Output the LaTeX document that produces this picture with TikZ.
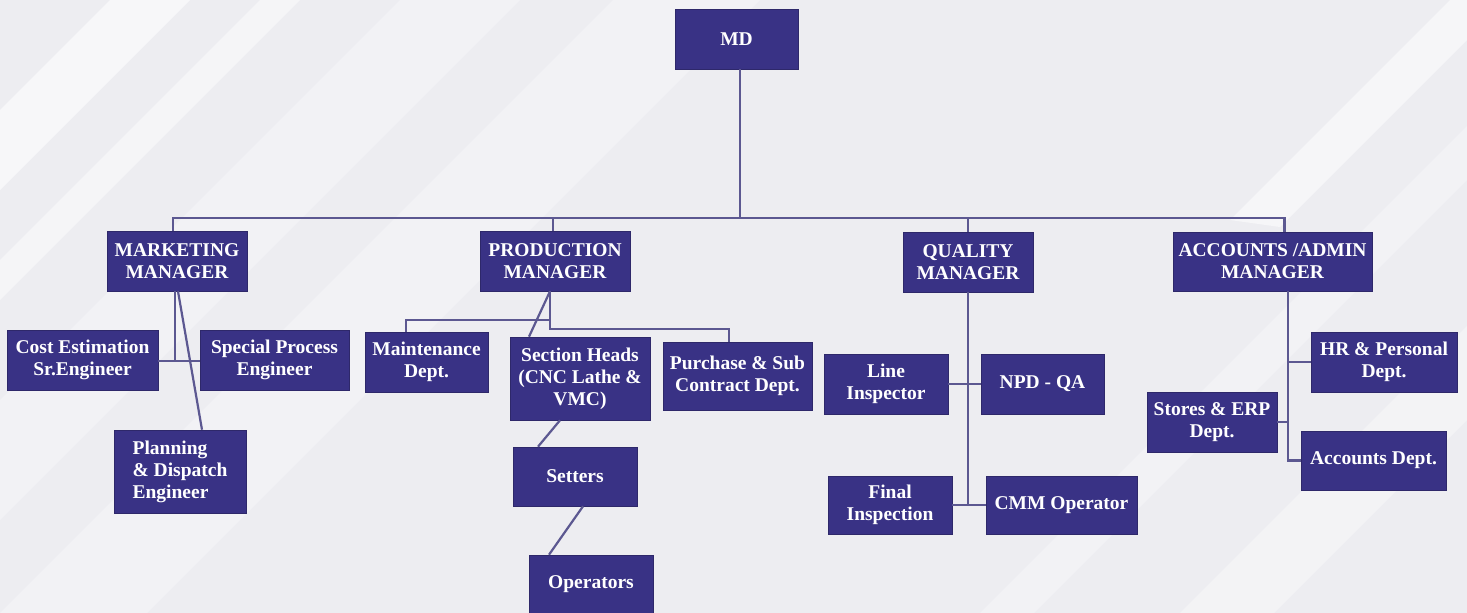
\documentclass[tikz,border=0pt]{standalone}
\usepackage{fontspec}
\setmainfont{Liberation Serif}
\definecolor{boxc}{RGB}{57,50,133}
\definecolor{linec}{RGB}{92,88,145}
\definecolor{bgc}{RGB}{237,237,241}
\begin{document}
\begin{tikzpicture}[x=1pt,y=-1pt,
  box/.style={draw=boxc!80!black,line width=0.6pt,fill=boxc,text=white,inner sep=0pt,align=center,
    font=\fontsize{19.5}{22}\selectfont\bfseries},
  conn/.style={draw=linec,line width=2.2pt}]
\useasboundingbox (0,0) rectangle (1467,613);
% background
\fill[bgc] (0,0) rectangle (1467,613);
\fill[white,opacity=0.6] (0,110) -- (110,0) -- (190,0) -- (0,190) -- cycle;
\fill[white,opacity=0.45] (0,260) -- (260,0) -- (300,0) -- (0,300) -- cycle;
\fill[white,opacity=0.3] (0,400) -- (400,0) -- (520,0) -- (0,520) -- cycle;
\fill[white,opacity=0.3] (0,613) -- (613,0) -- (760,0) -- (147,613) -- cycle;
\fill[white,opacity=0.35] (1180,613) -- (1467,326) -- (1467,420) -- (1274,613) -- cycle;
\fill[white,opacity=0.5] (1230,220) -- (1450,0) -- (1467,0) -- (1467,40) -- (1280,227) -- cycle;
\fill[white,opacity=0.3] (980,613) -- (1467,126) -- (1467,180) -- (1034,613) -- cycle;
% nodes
\node[box,minimum width=123,minimum height=60] (md) at (736.5,39) {MD};
\node[box,minimum width=140,minimum height=60] (mkt) at (177,261) {MARKETING\\MANAGER};
\node[box,minimum width=150,minimum height=60] (prd) at (555,261) {PRODUCTION\\MANAGER};
\node[box,minimum width=130,minimum height=60] (qm) at (968,262) {QUALITY\\MANAGER};
\node[box,minimum width=199,minimum height=59] (acc) at (1272.5,261.5) {ACCOUNTS /ADMIN\\MANAGER};
\node[box,minimum width=151,minimum height=60] (cost) at (82.5,360) {Cost Estimation\\Sr.Engineer};
\node[box,minimum width=149,minimum height=60] (spec) at (274.5,360) {Special Process\\Engineer};
\node[box,minimum width=132,minimum height=83,align=left] (plan) at (180,471.5) {Planning\\\& Dispatch\\Engineer};
\node[box,minimum width=123,minimum height=60] (maint) at (426.5,362) {Maintenance\\Dept.};
\node[box,minimum width=140,minimum height=83] (sec) at (580,378.5) {Section Heads\\(CNC Lathe \&\\VMC)};
\node[box,minimum width=149,minimum height=68] (pur) at (737.5,376) {Purchase \& Sub\\Contract Dept.};
\node[box,minimum width=124,minimum height=59] (set) at (575,476.5) {Setters};
\node[box,minimum width=124,minimum height=58] (op) at (591,584) {Operators};
\node[box,minimum width=124,minimum height=60] (li) at (886,384) {Line\\Inspector};
\node[box,minimum width=123,minimum height=60] (npd) at (1042.5,384) {NPD - QA};
\node[box,minimum width=124,minimum height=58] (fin) at (890,505) {Final\\Inspection};
\node[box,minimum width=151,minimum height=58] (cmm) at (1061.5,505) {CMM Operator};
\node[box,minimum width=146,minimum height=60] (hr) at (1384,362) {HR \& Personal\\Dept.};
\node[box,minimum width=130,minimum height=60] (st) at (1212,422) {Stores \& ERP\\Dept.};
\node[box,minimum width=145,minimum height=59] (accd) at (1373.5,460.5) {Accounts Dept.};
% connectors
\coordinate (bus) at (740,218);
\draw[conn] ([xshift=3.5pt]md.south) -- (bus);
\draw[conn] ([xshift=-4pt]mkt.north) |- ([xshift=12pt]acc.north |- bus) -- ([xshift=12pt]acc.north);
\draw[conn] ([xshift=-2pt]prd.north) -- ([xshift=-2pt]prd.north |- bus);
\draw[conn] (qm.north) -- (qm.north |- bus);
% marketing
\coordinate (mj) at (175,361);
\draw[conn] (mkt.south -| mj) -- (mj);
\draw[conn] (cost.east |- mj) -- (spec.west |- mj);
\draw[conn] ([xshift=1pt]mkt.south) -- ([xshift=22pt]plan.north);
% production
\coordinate (ps) at ([xshift=-5pt]prd.south);
\coordinate (pj) at (550,329);
\coordinate (pk) at (550,320);
\draw[conn] (ps) -- (pj) -| ([xshift=-8.5pt]pur.north);
\draw[conn] ([xshift=-20.5pt]maint.north) |- (pk);
\draw[conn] (ps) -- ([xshift=-51pt]sec.north);
\draw[conn] ([xshift=-20pt]sec.south) -- ([xshift=-37pt]set.north);
\draw[conn] ([xshift=8pt]set.south) -- ([xshift=-42pt]op.north);
% quality
\draw[conn] (qm.south) -- (qm.south |- cmm.west);
\draw[conn] (li.east) -- (npd.west);
\draw[conn] (fin.east) -- (cmm.west);
% accounts
\coordinate (av) at ([xshift=15.5pt]acc.south);
\draw[conn] (av) |- (accd.west);
\draw[conn] (hr.west) -- (hr.west -| av);
\draw[conn] (st.east) -- (st.east -| av);
\end{tikzpicture}
\end{document}
